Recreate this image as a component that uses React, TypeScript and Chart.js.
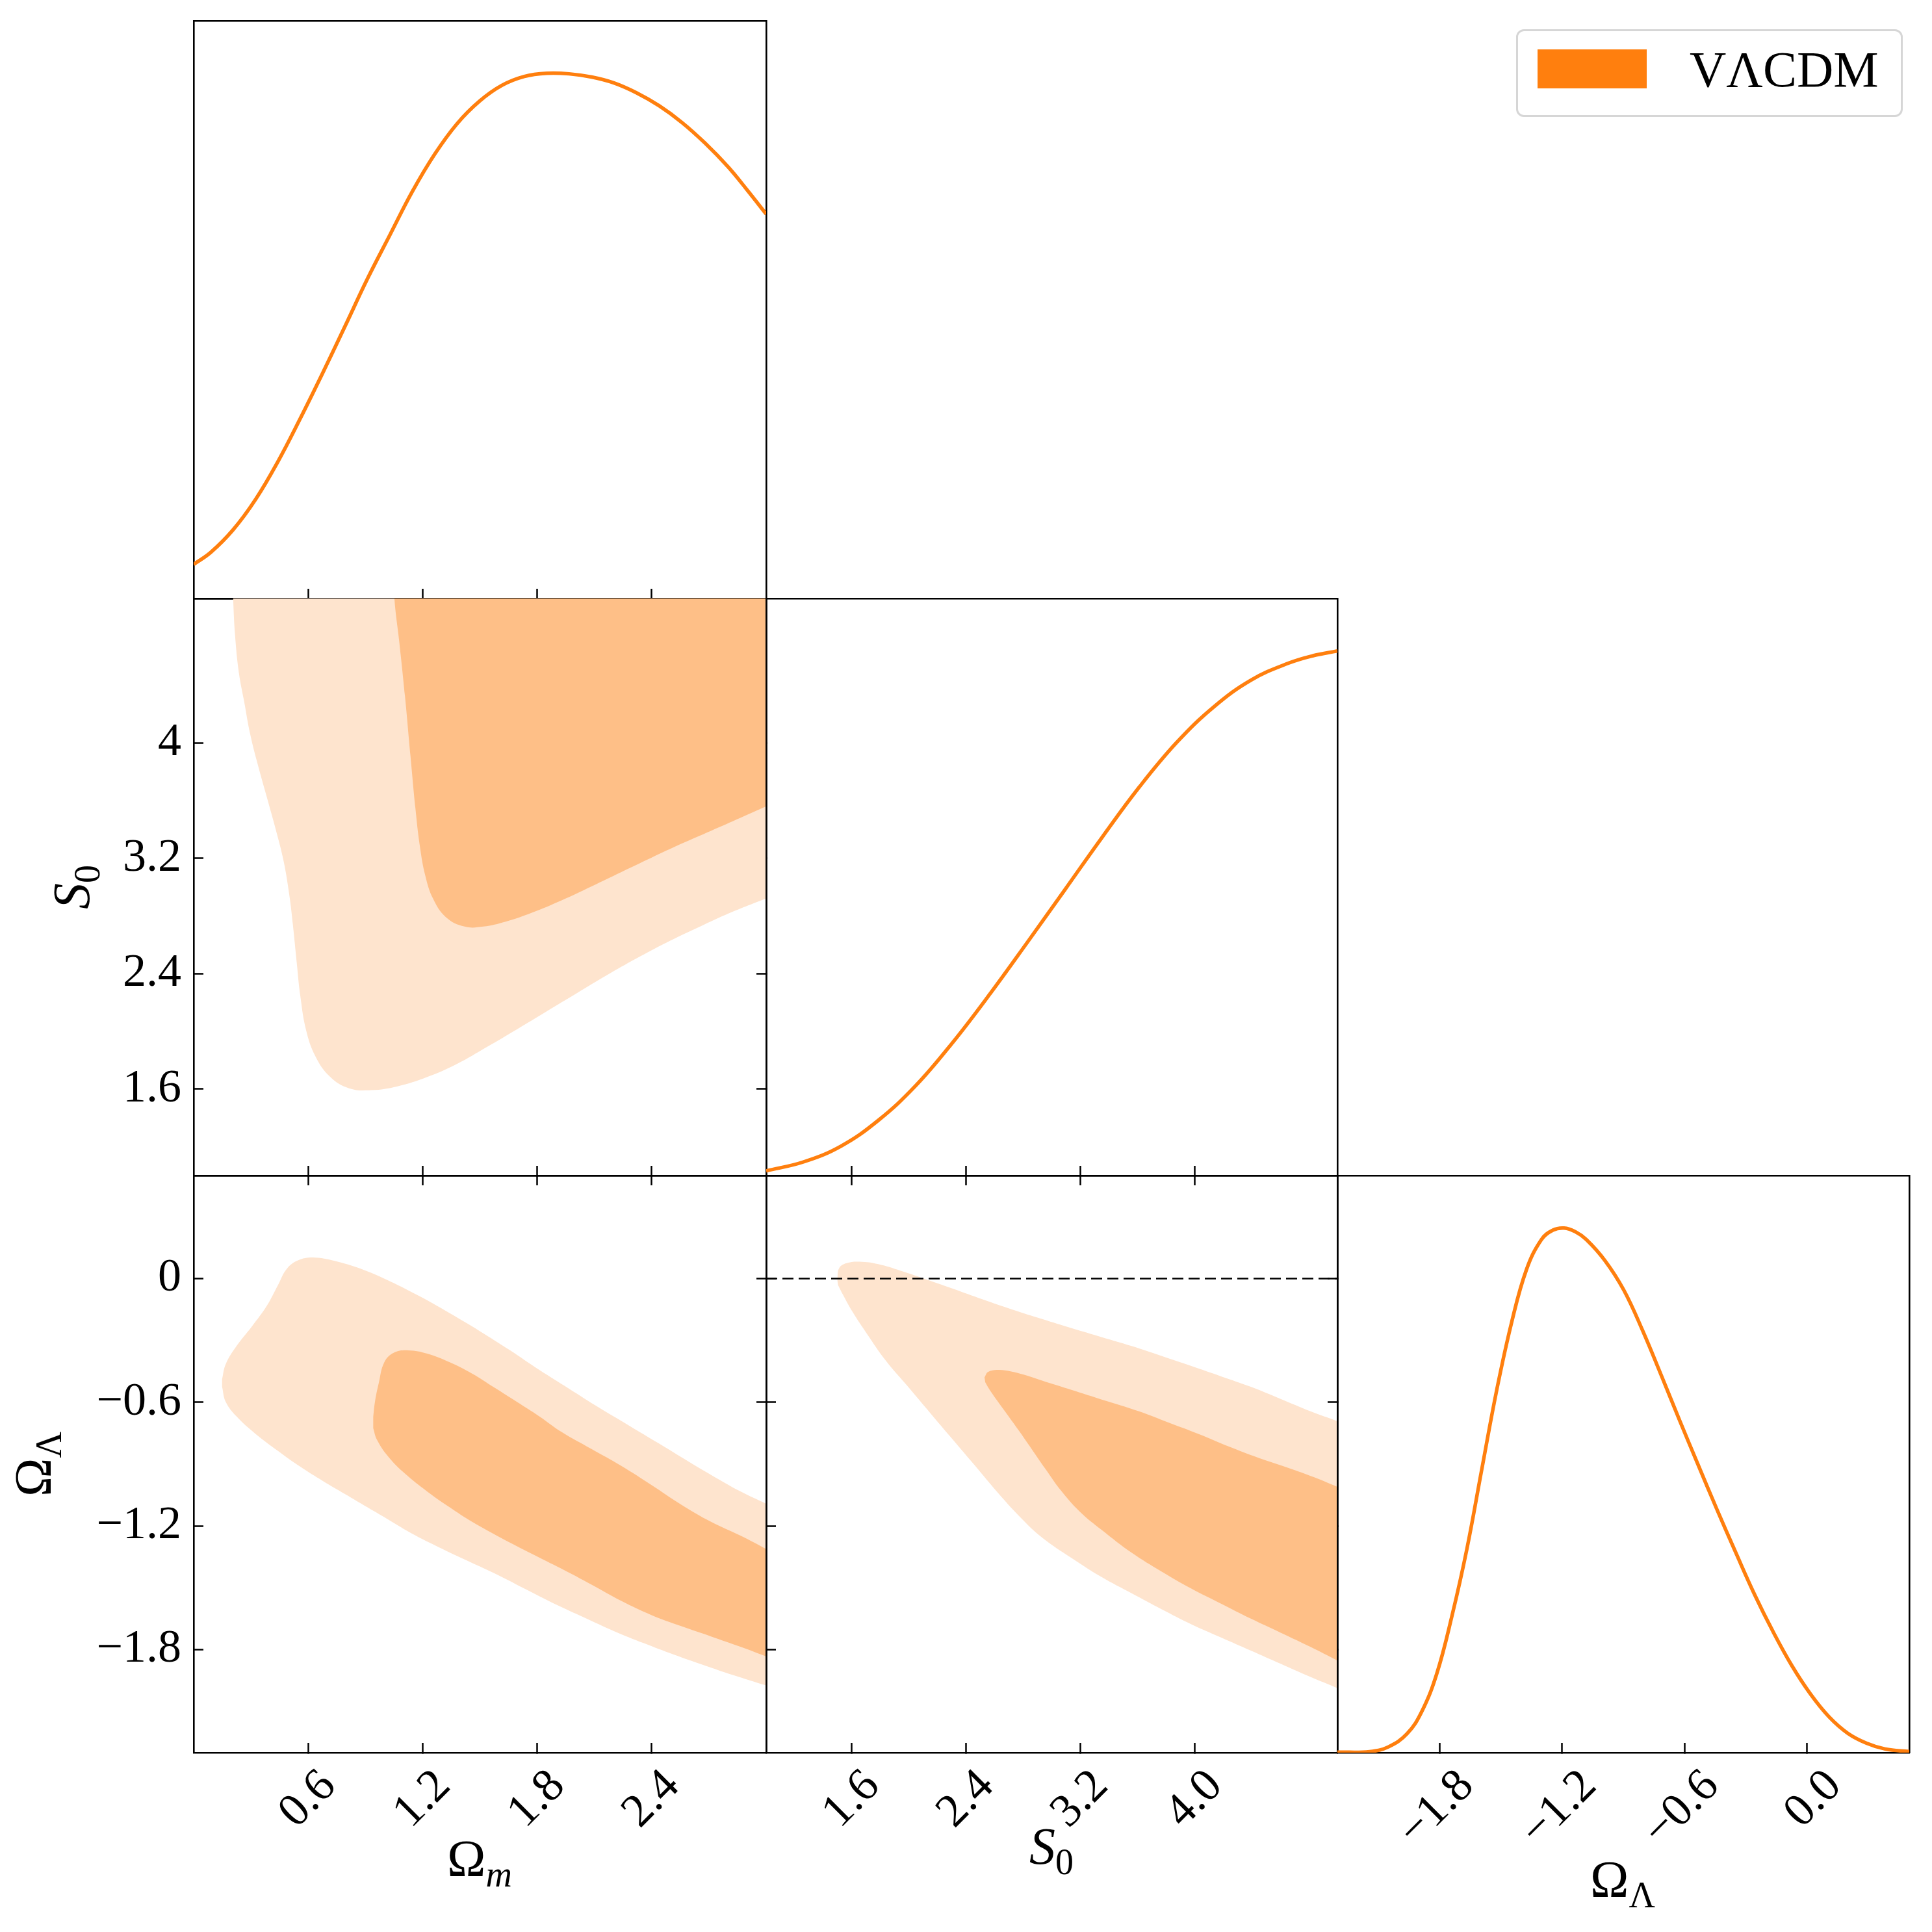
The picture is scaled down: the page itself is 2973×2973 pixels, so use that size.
import React, { useEffect, useRef } from 'react';
import { Chart, registerables } from 'chart.js';

Chart.register(...registerables);

// ---------------- data ----------------
const OM_RANGE = [0, 3];
const S0_RANGE = [1, 5];
const OL_RANGE = [-2.3, 0.5];
const PDF_RANGE = [0, 1.1];

const OM_TICKS = [0.6, 1.2, 1.8, 2.4];
const OM_TICK_LABELS = ['0.6', '1.2', '1.8', '2.4'];
const S0_TICKS = [1.6, 2.4, 3.2, 4.0];
const S0_X_TICK_LABELS = ['1.6', '2.4', '3.2', '4.0'];
const S0_Y_TICK_LABELS = ['1.6', '2.4', '3.2', '4'];
const OL_TICKS = [-1.8, -1.2, -0.6, 0.0];
const OL_X_TICK_LABELS = ['\u22121.8', '\u22121.2', '\u22120.6', '0.0'];
const OL_Y_TICK_LABELS = ['\u22121.8', '\u22121.2', '\u22120.6', '0'];

const OM_GRID = [0.0, 0.09, 0.207, 0.325, 0.442, 0.559, 0.677, 0.794, 0.911, 1.028, 1.146, 1.263, 1.38, 1.498, 1.615, 1.733, 1.85, 1.967, 2.085, 2.2, 2.32, 2.44, 2.56, 2.68, 2.8, 2.9, 3.0];
const OM_PDF = [0.065, 0.088, 0.131, 0.189, 0.261, 0.343, 0.43, 0.519, 0.609, 0.692, 0.775, 0.846, 0.904, 0.947, 0.977, 0.994, 1.0, 0.999, 0.993, 0.982, 0.963, 0.938, 0.906, 0.867, 0.822, 0.778, 0.732];

const S0_GRID = [1.0, 1.261, 1.523, 1.784, 2.046, 2.307, 2.569, 2.83, 3.092, 3.353, 3.614, 3.876, 4.137, 4.399, 4.66, 4.83, 5.0];
const S0_PDF = [0.009, 0.026, 0.056, 0.105, 0.171, 0.254, 0.347, 0.445, 0.545, 0.645, 0.741, 0.826, 0.894, 0.945, 0.977, 0.991, 1.0];

const OL_GRID = [-2.3, -2.142, -2.05, -1.959, -1.886, -1.813, -1.74, -1.666, -1.593, -1.52, -1.447, -1.374, -1.301, -1.245, -1.19, -1.135, -1.081, -0.99, -0.898, -0.807, -0.715, -0.624, -0.532, -0.441, -0.349, -0.258, -0.166, -0.075, 0.016, 0.108, 0.199, 0.291, 0.382, 0.5];
const OL_PDF = [0.001, 0.002, 0.011, 0.036, 0.079, 0.151, 0.259, 0.388, 0.54, 0.691, 0.82, 0.921, 0.978, 0.996, 1.0, 0.993, 0.978, 0.938, 0.882, 0.806, 0.72, 0.633, 0.547, 0.463, 0.381, 0.302, 0.23, 0.166, 0.112, 0.068, 0.037, 0.018, 0.007, 0.002];

// contours: [x, y]
const OM_S0_OUTER: number[][] = [
  [0.2, 5.3], [0.207, 5.0], [0.217, 4.745], [0.237, 4.485], [0.266, 4.276], [0.295, 4.068], [0.334, 3.859], [0.383, 3.625],
  [0.432, 3.39], [0.471, 3.182], [0.501, 2.947], [0.52, 2.739], [0.54, 2.478], [0.559, 2.244], [0.589, 2.009], [0.638, 1.827],
  [0.716, 1.683], [0.814, 1.605], [0.931, 1.592], [1.068, 1.618], [1.224, 1.683], [1.381, 1.775], [1.537, 1.892], [1.694, 2.014],
  [1.85, 2.139], [2.007, 2.264], [2.163, 2.387], [2.319, 2.504], [2.476, 2.614], [2.632, 2.713], [2.789, 2.809], [3.0, 2.921],
  [3.2, 3.025], [3.6, 3.2], [3.6, 5.6], [0.19, 5.6],
];
const OM_S0_INNER: number[][] = [
  [1.045, 5.3], [1.052, 5.0], [1.078, 4.693], [1.107, 4.328], [1.136, 3.911], [1.162, 3.547], [1.185, 3.286], [1.214, 3.078],
  [1.254, 2.921], [1.322, 2.791], [1.42, 2.726], [1.518, 2.726], [1.635, 2.76], [1.772, 2.822], [1.928, 2.908], [2.085, 3.005],
  [2.241, 3.104], [2.398, 3.203], [2.554, 3.299], [2.711, 3.39], [2.867, 3.481], [3.0, 3.56], [3.2, 3.68], [3.6, 3.9],
  [3.6, 5.6], [1.04, 5.6],
];
const OM_OL_OUTER: number[][] = [
  [0.149, -0.488], [0.168, -0.415], [0.227, -0.324], [0.305, -0.232], [0.383, -0.132], [0.442, -0.031], [0.491, 0.051], [0.559, 0.093],
  [0.638, 0.102], [0.755, 0.082], [0.892, 0.042], [1.029, -0.013], [1.185, -0.086], [1.342, -0.168], [1.498, -0.254], [1.655, -0.346],
  [1.811, -0.443], [1.967, -0.534], [2.124, -0.626], [2.28, -0.712], [2.437, -0.799], [2.593, -0.887], [2.75, -0.973], [2.867, -1.033],
  [3.0, -1.092], [3.2, -1.18], [3.5, -1.4], [3.5, -1.9], [3.2, -2.03], [3.0, -1.974], [2.828, -1.924], [2.672, -1.875],
  [2.515, -1.824], [2.359, -1.769], [2.202, -1.71], [2.046, -1.644], [1.889, -1.577], [1.733, -1.504], [1.576, -1.43], [1.42, -1.363],
  [1.263, -1.293], [1.146, -1.238], [1.029, -1.174], [0.911, -1.11], [0.794, -1.046], [0.677, -0.982], [0.559, -0.913], [0.442, -0.836],
  [0.325, -0.754], [0.227, -0.671], [0.168, -0.598], [0.149, -0.525],
];
const OM_OL_INNER: number[][] = [
  [0.941, -0.671], [0.95, -0.598], [0.97, -0.507], [0.999, -0.406], [1.048, -0.36], [1.126, -0.348], [1.224, -0.364], [1.342, -0.406],
  [1.459, -0.461], [1.576, -0.529], [1.694, -0.598], [1.811, -0.668], [1.928, -0.744], [2.085, -0.827], [2.241, -0.909], [2.398, -1.001],
  [2.554, -1.096], [2.711, -1.18], [2.867, -1.248], [3.0, -1.312], [3.2, -1.41], [3.5, -1.5], [3.5, -1.85], [3.2, -1.9],
  [3.0, -1.833], [2.867, -1.787], [2.711, -1.736], [2.554, -1.686], [2.398, -1.632], [2.241, -1.564], [2.085, -1.485], [1.928, -1.408],
  [1.772, -1.335], [1.615, -1.26], [1.459, -1.18], [1.342, -1.11], [1.224, -1.033], [1.107, -0.946], [1.019, -0.863], [0.96, -0.781],
  [0.941, -0.726],
];
const S0_OL_OUTER: number[][] = [
  [1.498, -0.004], [1.511, 0.051], [1.563, 0.075], [1.655, 0.082], [1.785, 0.07], [1.942, 0.038], [2.098, 0.002], [2.307, -0.049],
  [2.516, -0.101], [2.724, -0.15], [2.933, -0.196], [3.142, -0.241], [3.351, -0.284], [3.559, -0.327], [3.768, -0.375], [3.977, -0.424],
  [4.185, -0.474], [4.394, -0.525], [4.603, -0.584], [4.812, -0.644], [5.0, -0.692], [5.25, -0.76], [5.6, -1.0], [5.6, -1.95],
  [5.25, -2.06], [5.0, -1.987], [4.812, -1.933], [4.603, -1.869], [4.394, -1.805], [4.185, -1.741], [3.977, -1.677], [3.768, -1.604],
  [3.559, -1.527], [3.351, -1.449], [3.142, -1.357], [2.933, -1.257], [2.777, -1.156], [2.62, -1.037], [2.464, -0.909], [2.307, -0.781],
  [2.15, -0.653], [1.994, -0.525], [1.837, -0.397], [1.707, -0.269], [1.603, -0.159], [1.537, -0.077], [1.503, -0.031],
];
const S0_OL_INNER: number[][] = [
  [2.529, -0.479], [2.555, -0.452], [2.633, -0.443], [2.777, -0.461], [2.985, -0.507], [3.194, -0.552], [3.403, -0.598], [3.611, -0.644],
  [3.82, -0.699], [4.029, -0.754], [4.238, -0.814], [4.446, -0.869], [4.655, -0.918], [4.838, -0.964], [5.0, -1.01], [5.25, -1.08],
  [5.6, -1.3], [5.6, -1.8], [5.25, -1.94], [5.0, -1.853], [4.812, -1.787], [4.603, -1.718], [4.394, -1.65], [4.185, -1.577],
  [3.977, -1.504], [3.768, -1.421], [3.559, -1.33], [3.351, -1.22], [3.194, -1.129], [3.064, -1.028], [2.959, -0.927], [2.868, -0.836],
  [2.777, -0.745], [2.672, -0.644], [2.568, -0.543], [2.534, -0.503],
];
const OL_REFERENCE = [0.0];
const S0_REF_SPAN = [1.0, 5.0];

const LEGEND_LABELS = ['V\u039bCDM'];
const X_TITLES = [['\u03a9', 'm'], ['S', '0'], ['\u03a9', '\u039b']];
const Y_TITLES = [['S', '0'], ['\u03a9', '\u039b']];

// ---------------- styling ----------------
const ORANGE = '#ff7f0e';
const OUTER_FILL = '#fee4ce';
const INNER_FILL = '#febf87';
const FONT = "'Liberation Serif', 'Times New Roman', serif";
const TICK_SIZE = 72;
const TL = -15;

const COLS = [298, 1179, 2058, 2938];
const ROWS = [32, 921, 1809, 2697];
const PAD_SMALL = 12;

function makeScale(position: string, range: number[], ticks: number[], labels: string[], showLabels: boolean, marks: boolean, size: number, labelOffset: number) {
  const horizontal = position === 'top' || position === 'bottom';
  return {
    type: 'linear',
    position,
    min: range[0],
    max: range[1],
    z: 1,
    afterBuildTicks: (s: any) => {
      if (ticks.length) s.ticks = ticks.map((v) => ({ value: v }));
    },
    afterFit: (s: any) => {
      if (horizontal) s.height = size;
      else s.width = size;
      s.paddingTop = 0;
      s.paddingBottom = 0;
      s.paddingLeft = 0;
      s.paddingRight = 0;
    },
    ticks: {
      display: showLabels,
      autoSkip: false,
      minRotation: horizontal ? 45 : 0,
      maxRotation: horizontal ? 45 : 0,
      padding: horizontal ? 25 : 34,
      labelOffset: horizontal ? labelOffset : 0,
      color: '#000',
      font: { family: FONT, size: TICK_SIZE },
      callback: (v: number) => {
        const i = ticks.findIndex((t) => Math.abs(t - v) < 1e-9);
        return i >= 0 ? labels[i] : '';
      },
    },
    grid: {
      display: true,
      drawOnChartArea: false,
      drawTicks: marks,
      tickLength: TL,
      tickWidth: 2.5,
      tickColor: '#000',
    },
    border: { display: true, color: '#000', width: 2.6 },
  };
}

function pdfDataset(xs: number[], ys: number[]) {
  return {
    data: xs.map((x, i) => ({ x, y: ys[i] })),
    showLine: true,
    borderColor: ORANGE,
    borderWidth: 5.5,
    pointRadius: 0,
    fill: false,
    tension: 0.4,
  };
}

function contourDataset(pts: number[][], color: string, order: number) {
  return {
    data: pts.map(([x, y]) => ({ x, y })),
    showLine: true,
    fill: 'shape',
    backgroundColor: color,
    borderColor: 'rgba(0,0,0,0)',
    borderWidth: 0,
    pointRadius: 0,
    tension: 0.4,
    order,
  };
}

type AxisSpec = { range: number[]; ticks: number[]; labels: string[]; showLabels: boolean; marks: boolean; offset?: number };

type PanelSpec = {
  col: number;
  row: number;
  x: AxisSpec;
  y: AxisSpec;
  topMarks: boolean;
  rightMarks: boolean;
  datasets: () => any[];
};

const EMPTY: number[] = [];

const PANELS: PanelSpec[] = [
  {
    col: 0, row: 0,
    x: { range: OM_RANGE, ticks: OM_TICKS, labels: OM_TICK_LABELS, showLabels: false, marks: true },
    y: { range: PDF_RANGE, ticks: EMPTY, labels: [], showLabels: false, marks: false },
    topMarks: false, rightMarks: false,
    datasets: () => [pdfDataset(OM_GRID, OM_PDF)],
  },
  {
    col: 0, row: 1,
    x: { range: OM_RANGE, ticks: OM_TICKS, labels: OM_TICK_LABELS, showLabels: false, marks: true },
    y: { range: S0_RANGE, ticks: S0_TICKS, labels: S0_Y_TICK_LABELS, showLabels: true, marks: true },
    topMarks: true, rightMarks: true,
    datasets: () => [contourDataset(OM_S0_OUTER, OUTER_FILL, 2), contourDataset(OM_S0_INNER, INNER_FILL, 1)],
  },
  {
    col: 1, row: 1,
    x: { range: S0_RANGE, ticks: S0_TICKS, labels: S0_X_TICK_LABELS, showLabels: false, marks: true },
    y: { range: PDF_RANGE, ticks: EMPTY, labels: [], showLabels: false, marks: false },
    topMarks: false, rightMarks: false,
    datasets: () => [pdfDataset(S0_GRID, S0_PDF)],
  },
  {
    col: 0, row: 2,
    x: { range: OM_RANGE, ticks: OM_TICKS, labels: OM_TICK_LABELS, showLabels: true, marks: true, offset: 32 },
    y: { range: OL_RANGE, ticks: OL_TICKS, labels: OL_Y_TICK_LABELS, showLabels: true, marks: true },
    topMarks: true, rightMarks: true,
    datasets: () => [contourDataset(OM_OL_OUTER, OUTER_FILL, 2), contourDataset(OM_OL_INNER, INNER_FILL, 1)],
  },
  {
    col: 1, row: 2,
    x: { range: S0_RANGE, ticks: S0_TICKS, labels: S0_X_TICK_LABELS, showLabels: true, marks: true, offset: 32 },
    y: { range: OL_RANGE, ticks: OL_TICKS, labels: OL_Y_TICK_LABELS, showLabels: false, marks: true },
    topMarks: true, rightMarks: true,
    datasets: () => [
      contourDataset(S0_OL_OUTER, OUTER_FILL, 2),
      contourDataset(S0_OL_INNER, INNER_FILL, 1),
      {
        data: S0_REF_SPAN.map((x) => ({ x, y: OL_REFERENCE[0] })),
        showLine: true,
        borderColor: '#000',
        borderWidth: 2.6,
        borderDash: [17, 8],
        pointRadius: 0,
        fill: false,
        order: 0,
      },
    ],
  },
  {
    col: 2, row: 2,
    x: { range: OL_RANGE, ticks: OL_TICKS, labels: OL_X_TICK_LABELS, showLabels: true, marks: true, offset: 42 },
    y: { range: PDF_RANGE, ticks: EMPTY, labels: [], showLabels: false, marks: false },
    topMarks: false, rightMarks: false,
    datasets: () => [pdfDataset(OL_GRID, OL_PDF)],
  },
];

function geometry(p: PanelSpec) {
  const cl = COLS[p.col];
  const cr = COLS[p.col + 1];
  const rt = ROWS[p.row];
  const rb = ROWS[p.row + 1];
  const padL = p.col === 0 ? cl : PAD_SMALL;
  const padB = p.row === 2 ? 2973 - rb : PAD_SMALL;
  return {
    left: cl - padL,
    top: rt - PAD_SMALL,
    width: cr - cl + padL + PAD_SMALL,
    height: rb - rt + PAD_SMALL + padB,
    padL,
    padB,
  };
}

function buildConfig(p: PanelSpec): any {
  const g = geometry(p);
  return {
    type: 'scatter',
    data: { datasets: p.datasets() },
    options: {
      animation: false,
      responsive: false,
      maintainAspectRatio: false,
      devicePixelRatio: 1,
      events: [],
      layout: { padding: 0 },
      plugins: { legend: { display: false }, tooltip: { enabled: false } },
      elements: { line: { capBezierPoints: false }, point: { radius: 0 } },
      scales: {
        x: makeScale('bottom', p.x.range, p.x.ticks, p.x.labels, p.x.showLabels, p.x.marks, g.padB, p.x.offset || 0),
        y: makeScale('left', p.y.range, p.y.ticks, p.y.labels, p.y.showLabels, p.y.marks, g.padL, 0),
        x2: makeScale('top', p.x.range, p.x.ticks, p.x.labels, false, p.topMarks, PAD_SMALL, 0),
        y2: makeScale('right', p.y.range, p.y.ticks, p.y.labels, false, p.rightMarks, PAD_SMALL, 0),
      },
    },
  };
}

function PanelChart({ spec }: { spec: PanelSpec }) {
  const ref = useRef<HTMLCanvasElement | null>(null);
  const g = geometry(spec);
  useEffect(() => {
    if (!ref.current) return;
    const chart = new Chart(ref.current, buildConfig(spec));
    return () => chart.destroy();
  }, []);
  return (
    <canvas
      ref={ref}
      width={g.width}
      height={g.height}
      style={{ position: 'absolute', left: g.left, top: g.top, width: g.width, height: g.height }}
    />
  );
}

function MathLabel({ parts, x, y, rotate, italicMain, italicSub }: { parts: string[]; x: number; y: number; rotate: boolean; italicMain: boolean; italicSub: boolean }) {
  return (
    <div
      style={{
        position: 'absolute',
        left: x,
        top: y,
        transform: `translate(-50%, -50%) rotate(${rotate ? -90 : 0}deg)`,
        fontFamily: FONT,
        fontSize: 80,
        lineHeight: 1,
        whiteSpace: 'nowrap',
        color: '#000',
      }}
    >
      <span style={{ fontStyle: italicMain ? 'italic' : 'normal' }}>{parts[0]}</span>
      <span style={{ fontSize: '0.7em', fontStyle: italicSub ? 'italic' : 'normal', position: 'relative', top: '0.28em' }}>{parts[1]}</span>
    </div>
  );
}

export default function App() {
  return (
    <div style={{ position: 'absolute', left: 0, top: 0, width: 2973, height: 2973, background: '#fff', overflow: 'hidden' }}>
      {PANELS.map((p, i) => (
        <PanelChart key={i} spec={p} />
      ))}
      {/* legend */}
      <div
        style={{
          position: 'absolute',
          left: 2333,
          top: 45,
          width: 595,
          height: 135,
          border: '3px solid #d6d6d6',
          borderRadius: 12,
          boxSizing: 'border-box',
          background: '#fff',
        }}
      >
        <div style={{ position: 'absolute', left: 30, top: 28, width: 168, height: 60, background: ORANGE }} />
        <div
          style={{
            position: 'absolute',
            left: 264,
            top: 20,
            fontFamily: FONT,
            fontSize: 78,
            lineHeight: 1,
            whiteSpace: 'nowrap',
            color: '#000',
          }}
        >
          {LEGEND_LABELS[0]}
        </div>
      </div>
      {/* axis titles */}
      <MathLabel parts={X_TITLES[0]} x={738} y={2860} rotate={false} italicMain={false} italicSub={true} />
      <MathLabel parts={X_TITLES[1]} x={1618} y={2841} rotate={false} italicMain={true} italicSub={false} />
      <MathLabel parts={X_TITLES[2]} x={2497} y={2892} rotate={false} italicMain={false} italicSub={false} />
      <MathLabel parts={Y_TITLES[0]} x={110} y={1365} rotate={true} italicMain={true} italicSub={false} />
      <MathLabel parts={Y_TITLES[1]} x={51} y={2253} rotate={true} italicMain={false} italicSub={false} />
    </div>
  );
}
